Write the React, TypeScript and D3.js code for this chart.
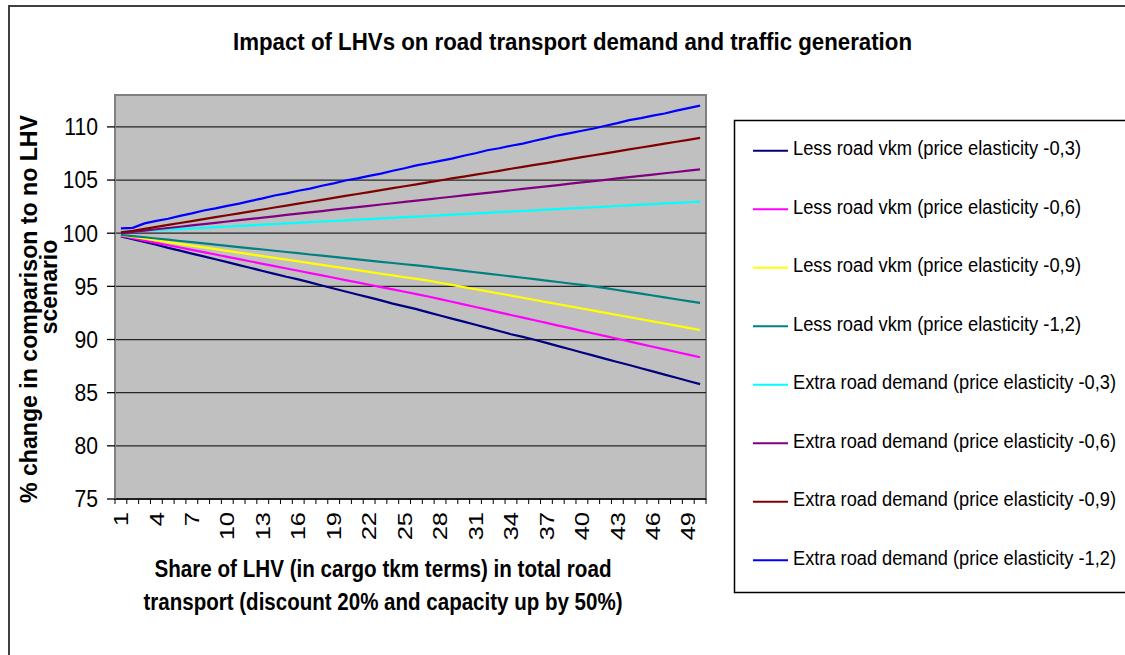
import React from 'react';
import * as d3 from 'd3';

const categories = [1,2,3,4,5,6,7,8,9,10,11,12,13,14,15,16,17,18,19,20,21,22,23,24,25,26,27,28,29,30,31,32,33,34,35,36,37,38,39,40,41,42,43,44,45,46,47,48,49,50];
const xTickLabels = ['1','4','7','10','13','16','19','22','25','28','31','34','37','40','43','46','49'];
const yTicks = [75, 80, 85, 90, 95, 100, 105, 110];

const lessVkm03 = [99.70,99.45,99.18,98.92,98.62,98.36,98.08,97.82,97.55,97.28,97.00,96.73,96.45,96.18,95.90,95.66,95.38,95.08,94.80,94.52,94.24,93.97,93.68,93.38,93.12,92.86,92.55,92.26,91.97,91.68,91.39,91.10,90.80,90.50,90.25,89.98,89.68,89.38,89.08,88.78,88.48,88.18,87.89,87.60,87.30,87.00,86.70,86.40,86.10,85.80];
const lessVkm06 = [99.75,99.53,99.31,99.09,98.87,98.66,98.44,98.22,98.00,97.78,97.56,97.34,97.12,96.90,96.68,96.47,96.25,96.03,95.81,95.59,95.37,95.15,94.93,94.71,94.49,94.27,94.05,93.80,93.55,93.30,93.06,92.81,92.56,92.31,92.06,91.81,91.56,91.31,91.07,90.82,90.57,90.32,90.07,89.82,89.57,89.32,89.08,88.83,88.58,88.33];
const lessVkm09 = [99.82,99.66,99.49,99.33,99.16,99.00,98.83,98.67,98.50,98.34,98.17,98.01,97.84,97.68,97.51,97.35,97.18,97.02,96.85,96.69,96.52,96.36,96.19,96.03,95.86,95.70,95.54,95.34,95.14,94.93,94.73,94.53,94.33,94.13,93.93,93.72,93.52,93.32,93.12,92.92,92.72,92.51,92.31,92.11,91.91,91.71,91.51,91.30,91.10,90.90];
const lessVkm12 = [99.85,99.73,99.62,99.50,99.39,99.27,99.16,99.04,98.93,98.81,98.70,98.58,98.47,98.35,98.23,98.12,98.00,97.89,97.77,97.66,97.54,97.43,97.31,97.20,97.08,96.97,96.85,96.72,96.59,96.46,96.33,96.20,96.07,95.94,95.81,95.68,95.54,95.41,95.27,95.14,95.00,94.83,94.66,94.48,94.31,94.14,93.96,93.79,93.61,93.44];
const extra03 = [100.10,100.16,100.22,100.28,100.33,100.39,100.45,100.51,100.57,100.63,100.69,100.74,100.80,100.86,100.92,100.98,101.04,101.10,101.15,101.21,101.27,101.33,101.39,101.45,101.51,101.56,101.62,101.68,101.74,101.80,101.86,101.92,101.98,102.03,102.09,102.15,102.21,102.27,102.33,102.39,102.44,102.50,102.56,102.62,102.68,102.74,102.80,102.85,102.91,102.97];
const extra06 = [100.00,100.12,100.25,100.37,100.49,100.61,100.74,100.86,100.98,101.10,101.23,101.35,101.47,101.59,101.72,101.84,101.96,102.08,102.21,102.33,102.45,102.57,102.70,102.82,102.94,103.06,103.19,103.31,103.43,103.55,103.68,103.80,103.92,104.04,104.17,104.29,104.41,104.53,104.66,104.78,104.90,105.02,105.15,105.27,105.39,105.51,105.64,105.76,105.88,106.00];
const extra09 = [100.08,100.23,100.41,100.60,100.78,100.96,101.14,101.32,101.51,101.69,101.87,102.05,102.23,102.42,102.60,102.78,102.96,103.14,103.33,103.51,103.69,103.87,104.05,104.24,104.42,104.60,104.78,104.96,105.15,105.33,105.51,105.69,105.87,106.06,106.24,106.42,106.60,106.78,106.97,107.15,107.33,107.51,107.69,107.88,108.06,108.24,108.42,108.60,108.78,108.96];
const extra12 = [100.45,100.50,100.92,101.16,101.36,101.63,101.86,102.14,102.34,102.57,102.78,103.04,103.28,103.55,103.75,103.99,104.19,104.46,104.69,104.96,105.16,105.40,105.61,105.87,106.11,106.38,106.58,106.81,107.02,107.29,107.52,107.80,107.99,108.23,108.43,108.70,108.94,109.21,109.41,109.64,109.85,110.11,110.35,110.63,110.82,111.06,111.26,111.53,111.76,112.00];

const seriesNames = [
  'Less road vkm (price elasticity -0,3)',
  'Less road vkm (price elasticity -0,6)',
  'Less road vkm (price elasticity -0,9)',
  'Less road vkm (price elasticity -1,2)',
  'Extra road demand (price elasticity -0,3)',
  'Extra road demand (price elasticity -0,6)',
  'Extra road demand (price elasticity -0,9)',
  'Extra road demand (price elasticity -1,2)',
];
const seriesValues = [lessVkm03, lessVkm06, lessVkm09, lessVkm12, extra03, extra06, extra09, extra12];
const seriesColors = ['#000080', '#FF00FF', '#FFFF00', '#008080', '#00FFFF', '#800080', '#800000', '#0000FF'];

const FONT = '"Liberation Sans", Arial, sans-serif';

export default function App() {
  const W = 1125, H = 655;
  const plotL = 115, plotR = 706, plotT = 95, plotB = 499;
  const x = d3.scaleBand<number>().domain(categories).range([plotL, plotR]).padding(0);
  const y = d3.scaleLinear().domain([75, 113]).range([plotB, plotT]);
  const cx = (c: number) => (x(c) as number) + x.bandwidth() / 2;
  const line = d3.line<number>().x((_, i) => cx(categories[i])).y((v) => y(v));

  const legendX = 753, legendTextX = 793, legendY0 = 150.7, legendStep = 58.5;

  return (
    <svg width={W} height={H} style={{ position: 'absolute', left: 0, top: 0, background: '#fff' }} fontFamily={FONT}>
      <rect x={0} y={0} width={W} height={H} fill="#fff" />
      <rect x={9} y={6} width={1140} height={680} fill="none" stroke="#404040" strokeWidth={2} />

      <text x={572.5} y={49.5} textAnchor="middle" fontSize={23} fontWeight="bold" textLength={679} lengthAdjust="spacingAndGlyphs">
        Impact of LHVs on road transport demand and traffic generation
      </text>

      <rect x={plotL} y={plotT} width={plotR - plotL} height={plotB - plotT} fill="#C0C0C0" stroke="#808080" strokeWidth={2} />
      {yTicks.filter((t) => t > 75).map((t) => (
        <line key={t} x1={plotL} x2={plotR} y1={y(t)} y2={y(t)} stroke="#262626" strokeWidth={1.3} />
      ))}

      {seriesValues.map((vals, i) => (
        <path key={i} d={line(vals) || ''} fill="none" stroke={seriesColors[i]} strokeWidth={2.2} />
      ))}

      <line x1={plotL} x2={plotR} y1={plotB} y2={plotB} stroke="#000" strokeWidth={1.3} />
      <line x1={plotL} x2={plotL} y1={plotT} y2={plotB} stroke="#808080" strokeWidth={2} />
      {yTicks.map((t) => (
        <g key={t}>
          <line x1={107} x2={plotL} y1={y(t)} y2={y(t)} stroke="#000" strokeWidth={1.3} />
          <text transform={`translate(98,${y(t) + 8.3}) scale(0.92,1)`} textAnchor="end" fontSize={23}>{t}</text>
        </g>
      ))}
      {categories.map((c) => (
        <line key={c} x1={x(c) as number} x2={x(c) as number} y1={plotB} y2={plotB + 5} stroke="#000" strokeWidth={1} />
      ))}
      <line x1={plotR} x2={plotR} y1={plotB} y2={plotB + 5} stroke="#000" strokeWidth={1} />
      {xTickLabels.map((lab) => (
        <text key={lab} transform={`translate(${cx(+lab)},512) scale(0.8,1) rotate(-90)`} textAnchor="end" dy="0.35em" fontSize={25.5}>{lab}</text>
      ))}

      <text transform="translate(37,309) rotate(-90)" textAnchor="middle" fontSize={23} fontWeight="bold" textLength={388} lengthAdjust="spacingAndGlyphs">
        % change in comparison to no LHV
      </text>
      <text transform="translate(57,287) rotate(-90)" textAnchor="middle" fontSize={23} fontWeight="bold">
        scenario
      </text>

      <text x={383} y={577} textAnchor="middle" fontSize={23} fontWeight="bold" textLength={457} lengthAdjust="spacingAndGlyphs">
        Share of LHV (in cargo tkm terms) in total road
      </text>
      <text x={383} y={609.5} textAnchor="middle" fontSize={23} fontWeight="bold" textLength={479} lengthAdjust="spacingAndGlyphs">
        transport (discount 20% and capacity up by 50%)
      </text>

      <rect x={734.5} y={120.5} width={420} height={472} fill="#fff" stroke="#000" strokeWidth={1.5} />
      {seriesNames.map((name, i) => {
        const ly = legendY0 + i * legendStep;
        return (
          <g key={name}>
            <line x1={legendX} x2={788} y1={ly} y2={ly} stroke={seriesColors[i]} strokeWidth={2} />
            <text x={legendTextX} y={ly + 4.5} fontSize={20} textLength={i < 4 ? 288 : 323} lengthAdjust="spacingAndGlyphs">{name}</text>
          </g>
        );
      })}
    </svg>
  );
}
